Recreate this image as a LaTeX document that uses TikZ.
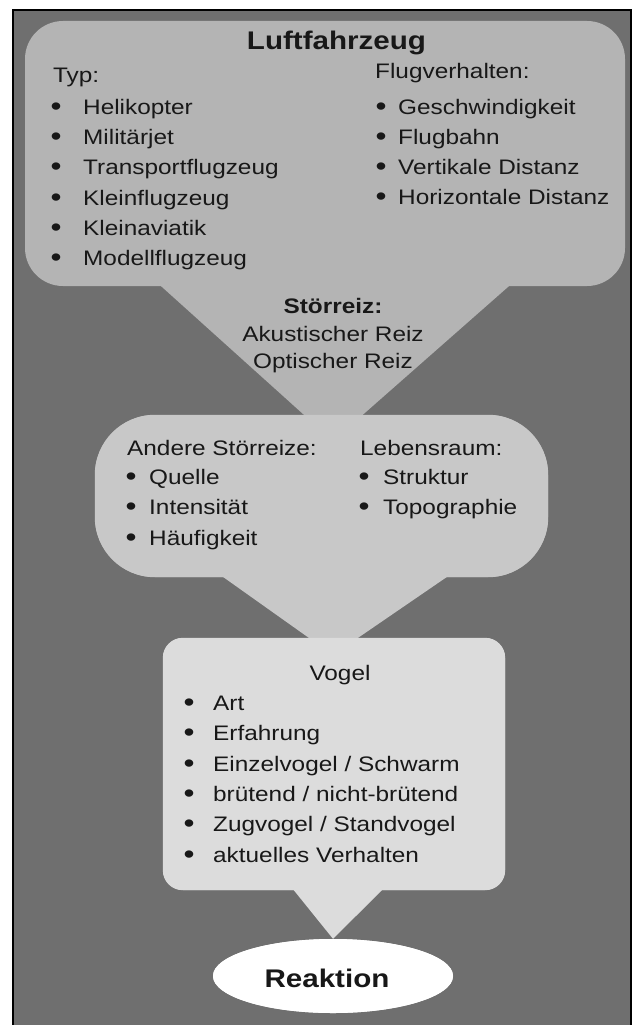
\documentclass[tikz,border=0pt]{standalone}
\usepackage{fontspec}
\usetikzlibrary{shapes.geometric}
\setmainfont{Liberation Sans}[FakeStretch=1.16]
\definecolor{bggray}{RGB}{111,111,111}
\definecolor{topgray}{RGB}{180,180,180}
\definecolor{midgray}{RGB}{200,200,200}
\definecolor{lowgray}{RGB}{220,220,220}
\definecolor{textcol}{RGB}{24,24,24}
\newcommand\bodyf{\fontsize{21}{25}\selectfont}
\newcommand\bulf{\fontsize{27}{30}\selectfont}
\newcommand\titlef{\fontsize{25.5}{30}\selectfont\bfseries}
\begin{document}
\begin{tikzpicture}[x=1pt,y=-1pt,
  panel/.style={rectangle, draw=none, inner sep=0pt},
  txt/.style={inner sep=0pt, anchor=base west, text=textcol, font=\bodyf},
  ctr/.style={inner sep=0pt, anchor=base, text=textcol, font=\bodyf},
  bul/.style={inner sep=0pt, anchor=base, text=textcol, font=\bulf, yshift=-1.5pt},
  titlen/.style={inner sep=0pt, anchor=base, text=textcol, font=\titlef},
]
\useasboundingbox (0,0) rectangle (637,1025);
\fill[white] (0,0) rectangle (637,1025);
\fill[bggray] (13,10) rectangle (631,1025);
\draw[line width=1.6pt] (13,1026) -- (13,10) -- (631,10) -- (631,1026);

% panels
\node[panel, fill=topgray, rounded corners=38pt, minimum width=600pt, minimum height=265pt] (luft) at (325,153.5) {};
\node[panel, fill=midgray, rounded corners=60pt, minimum width=453pt, minimum height=162pt] (mid) at (321.5,496) {};
\node[panel, fill=lowgray, rounded corners=20pt, minimum width=342pt, minimum height=252pt] (vogel) at (334,764) {};
\node[panel, ellipse, fill=white, minimum width=240pt, minimum height=74pt] (reak) at (333,976) {};

% funnels
\coordinate (tip1) at (333,441);
\coordinate (tip2) at (333,655);
\fill[topgray] ([xshift=-165pt,yshift=1pt]luft.south) -- ([xshift=185pt,yshift=1pt]luft.south) -- (tip1) -- cycle;
\fill[midgray] ([xshift=-99.5pt,yshift=1pt]mid.south) -- ([xshift=126.5pt,yshift=1pt]mid.south) -- (tip2) -- cycle;
\fill[lowgray] ([xshift=-41pt,yshift=1pt]vogel.south) -- ([xshift=49pt,yshift=1pt]vogel.south) -- (reak.north) -- cycle;
% redraw panels over funnel tips
\fill[midgray, rounded corners=60pt] (mid.south west) rectangle (mid.north east);
\fill[lowgray, rounded corners=20pt] (vogel.south west) rectangle (vogel.north east);
\fill[white] (reak.center) ellipse [x radius=120pt, y radius=37pt];

% top panel text
\node[titlen] (tluft) at (336.5,50) {Luftfahrzeug};
\node[txt] (ttyp) at (53,82) {Typ:};
\node[bul] (b1) at (56,114) {•}; \node[txt] (l1) at (83,114) {Helikopter};
\node[bul] (b2) at (56,144) {•}; \node[txt] (l2) at (83,144) {Militärjet};
\node[bul] (b3) at (56,174) {•}; \node[txt] (l3) at (83,174) {Transportflugzeug};
\node[bul] (b4) at (56,205) {•}; \node[txt] (l4) at (83,205) {Kleinflugzeug};
\node[bul] (b5) at (56,235) {•}; \node[txt] (l5) at (83,235) {Kleinaviatik};
\node[bul] (b6) at (56,265) {•}; \node[txt] (l6) at (83,265) {Modellflugzeug};
\node[txt] (tflug) at (375,78) {Flugverhalten:};
\node[bul] (rb1) at (381,114) {•}; \node[txt] (r1) at (398,114) {Geschwindigkeit};
\node[bul] (rb2) at (381,144) {•}; \node[txt] (r2) at (398,144) {Flugbahn};
\node[bul] (rb3) at (381,174) {•}; \node[txt] (r3) at (398,174) {Vertikale Distanz};
\node[bul] (rb4) at (381,204) {•}; \node[txt] (r4) at (398,204) {Horizontale Distanz};

% stoerreiz
\node[ctr, font=\bodyf\bfseries] (sr) at (333,313) {Störreiz:};
\node[ctr] (sr1) at (333,341) {Akustischer Reiz};
\node[ctr] (sr2) at (333,368) {Optischer Reiz};

% middle panel
\node[txt] (tand) at (127,455) {Andere Störreize:};
\node[bul] (mb1) at (131,484) {•}; \node[txt] (m1) at (149,484) {Quelle};
\node[bul] (mb2) at (131,514) {•}; \node[txt] (m2) at (149,514) {Intensität};
\node[bul] (mb3) at (131,545) {•}; \node[txt] (m3) at (149,545) {Häufigkeit};
\node[txt] (tleb) at (360,455) {Lebensraum:};
\node[bul] (nb1) at (364,484) {•}; \node[txt] (n1) at (383,484) {Struktur};
\node[bul] (nb2) at (364,514) {•}; \node[txt] (n2) at (383,514) {Topographie};

% vogel panel
\node[ctr] (tvog) at (340,680) {Vogel};
\node[bul] (vb1) at (189,710) {•}; \node[txt] (v1) at (213,710) {Art};
\node[bul] (vb2) at (189,740) {•}; \node[txt] (v2) at (213,740) {Erfahrung};
\node[bul] (vb3) at (189,771) {•}; \node[txt] (v3) at (213,771) {Einzelvogel / Schwarm};
\node[bul] (vb4) at (189,801) {•}; \node[txt] (v4) at (213,801) {brütend / nicht-brütend};
\node[bul] (vb5) at (189,831) {•}; \node[txt] (v5) at (213,831) {Zugvogel / Standvogel};
\node[bul] (vb6) at (189,862) {•}; \node[txt] (v6) at (213,862) {aktuelles Verhalten};

% reaktion
\node[titlen] (treak) at (327,987) {Reaktion};
\end{tikzpicture}
\end{document}
